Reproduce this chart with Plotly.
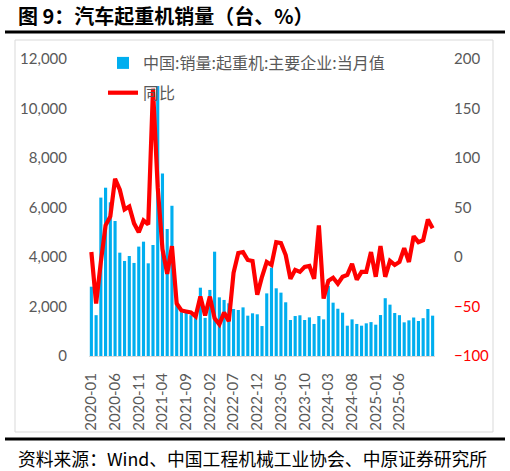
import plotly.graph_objects as go
import pandas as pd

months = [p.strftime("%Y-%m") for p in pd.period_range("2020-01", "2026-01", freq="M")]

sales = [2800, 1650, 6400, 6800, 6210, 5455, 4175, 3840, 4040, 3760, 4420, 4620,
         3745, 4485, 10910, 7370, 5130, 6070, 2200, 1770, 1820, 1650, 1770, 2760,
         1540, 2670, 4215, 2370, 2265, 2130, 1900, 1860, 1965, 1630, 1725, 1685,
         1210, 2530, 3570, 2735, 2560, 2170, 1455, 1615, 1645, 1455, 1560, 1295,
         1615, 1480, 2830, 2155, 1910, 1750, 1225, 1480, 1295, 1225, 1320, 1370,
         1265, 1655, 2335, 2075, 1737, 1650, 1360, 1440, 1555, 1414, 1528, 1899, 1630]

yoy = [5, -47, -5, 32, 41, 79, 68, 48, 51, 34, 25, 37,
       33, 170, 70, 8, -17, 11, -47, -54, -55, -56, -60, -40,
       -59, -40, -62, -68, -56, -65, -16, 4, 5, -3, -4, -38,
       -20, -5, -8, 15, 14, 2, -22, -13, -15, -10, -9, -22,
       32, -42, -24, -21, -27, -20, -18, -7, -23, -15, -15, 5,
       -20, 11, -20, -4, -8, -5, 9, -5, 21, 15, 17, 38, 29]

tick_labels = ["2020-01", "2020-06", "2020-11", "2021-04", "2021-09", "2022-02", "2022-07",
               "2022-12", "2023-05", "2023-10", "2024-03", "2024-08", "2025-01", "2025-06"]
left_ticks = [0, 2000, 4000, 6000, 8000, 10000, 12000]
right_pos_ticks = [0, 50, 100, 150, 200]
right_neg_ticks = [-100, -50]

W, H = 510, 471
L, R, T, B = 89, 75, 59, 115
PW, PH = W - L - R, H - T - B

def px(xp):
    return (xp - L) / PW

def py(yp):
    return (H - B - yp) / PH

GRAY = "#595959"
NUM_FONT = "Lato, 'Noto Sans CJK SC', sans-serif"
CJK_FONT = "'Noto Sans CJK SC', sans-serif"

fig = go.Figure()
fig.add_trace(go.Bar(x=months, y=sales, name="中国:销量:起重机:主要企业:当月值",
                     marker=dict(color="#00AEEF", line=dict(width=0)),
                     legendgroup="a"))
fig.add_trace(go.Scatter(x=months, y=yoy, name="同比", mode="lines",
                         line=dict(color="#FF0000", width=4.2), yaxis="y2",
                         legendgroup="b"))
fig.add_trace(go.Scatter(x=months, y=yoy, mode="lines", yaxis="y3", opacity=0,
                         showlegend=False, hoverinfo="skip"))

fig.update_layout(
    width=W, height=H,
    margin=dict(l=L, r=R, t=T, b=B, autoexpand=False),
    paper_bgcolor="white", plot_bgcolor="white",
    bargap=0.34,
    showlegend=True,
    legend=dict(x=px(103), y=py(46), xanchor="left", yanchor="top",
                bgcolor="rgba(0,0,0,0)", font=dict(family=CJK_FONT, size=16, color=GRAY),
                traceorder="grouped", tracegroupgap=6),
    xaxis=dict(type="category", tickmode="array", tickvals=tick_labels, ticktext=tick_labels,
               tickangle=-90, tickfont=dict(family=NUM_FONT, size=15, color=GRAY),
               ticks="outside", ticklen=10, tickcolor="rgba(0,0,0,0)",
               showline=True, linecolor="#D9D9D9", linewidth=1, showgrid=False,
               range=[-0.5, len(months) - 0.5]),
    yaxis=dict(range=[0, 12000], tickvals=left_ticks, tickformat=",d",
               tickfont=dict(family=NUM_FONT, size=15, color=GRAY),
               ticks="outside", ticklen=18, tickcolor="rgba(0,0,0,0)",
               showgrid=False, zeroline=False, showline=False),
    yaxis2=dict(range=[-100, 200], overlaying="y", side="right", tickvals=right_pos_ticks,
                tickfont=dict(family=NUM_FONT, size=15, color=GRAY),
                ticks="outside", ticklen=15, tickcolor="rgba(0,0,0,0)",
                showgrid=False, zeroline=False, showline=False),
    yaxis3=dict(range=[-100, 200], overlaying="y", side="right", tickvals=right_neg_ticks,
                tickfont=dict(family=NUM_FONT, size=15, color="#FF0000"),
                ticks="outside", ticklen=15, tickcolor="rgba(0,0,0,0)",
                showgrid=False, zeroline=False, showline=False),
    shapes=[
        dict(type="rect", xref="paper", yref="paper", x0=px(15), x1=px(493), y0=py(432), y1=py(40),
             line=dict(color="#D9D9D9", width=1), layer="below"),
        dict(type="line", xref="paper", yref="paper", x0=px(5), x1=px(505), y0=py(32), y1=py(32),
             line=dict(color="black", width=3)),
        dict(type="line", xref="paper", yref="paper", x0=px(5), x1=px(505), y0=py(439), y1=py(439),
             line=dict(color="black", width=3)),
    ],
    annotations=[
        dict(text="<b>图 9：汽车起重机销量（台、%）</b>", xref="paper", yref="paper",
             x=px(16), y=py(15), xanchor="left", yanchor="middle", showarrow=False,
             font=dict(family=CJK_FONT, size=20, color="black")),
        dict(text="资料来源：Wind、中国工程机械工业协会、中原证券研究所", xref="paper", yref="paper",
             x=px(16), y=py(458), xanchor="left", yanchor="middle", showarrow=False,
             font=dict(family=CJK_FONT, size=17.8, color="black")),
    ],
)

fig.write_html("out.html")
